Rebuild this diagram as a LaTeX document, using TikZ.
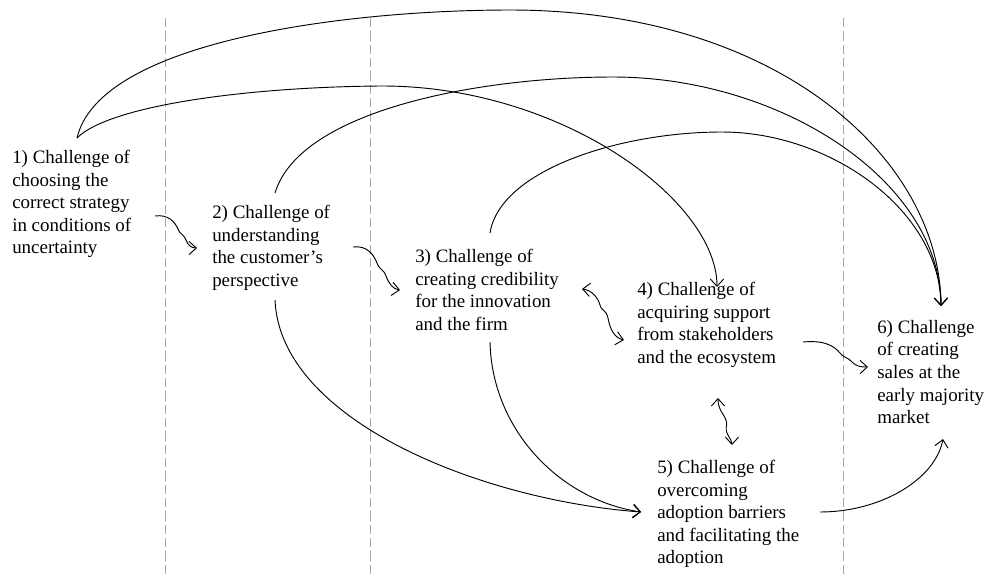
\documentclass[tikz,border=0pt]{standalone}
\usepackage{fontspec}
\setmainfont{Liberation Serif}
\usetikzlibrary{arrows.meta}
\begin{document}
\begin{tikzpicture}[x=0.75pt,y=-0.75pt,
  lbl/.style={anchor=north west,inner sep=0pt,align=left,font=\fontsize{14.2}{16.9}\selectfont},
  conn/.style={line width=0.7pt,-{Straight Barb[length=5.5pt,width=10pt]}},
  bconn/.style={line width=0.7pt,{Straight Barb[length=5.5pt,width=10pt]}-{Straight Barb[length=5.5pt,width=10pt]}},
  divider/.style={gray!70,line width=0.5pt,dash pattern=on 7pt off 3pt}]
\useasboundingbox (0,0) rectangle (996,576);
% dividers
\draw[divider] (165,18) -- (165,576);
\draw[divider] (370,18) -- (370,576);
\draw[divider] (843,18) -- (843,576);
% nodes
\node[lbl] (c1) at (12,150) {1) Challenge of\\choosing the\\correct strategy\\in conditions of\\uncertainty};
\node[lbl] (c2) at (212,205) {2) Challenge of\\understanding\\the customer’s\\perspective};
\node[lbl] (c3) at (415,249) {3) Challenge of\\creating credibility\\for the innovation\\and the firm};
\node[lbl] (c4) at (637,282) {4) Challenge of\\acquiring support\\from stakeholders\\and the ecosystem};
\node[lbl] (c5) at (657,460) {5) Challenge of\\overcoming\\adoption barriers\\and facilitating the\\adoption};
\node[lbl] (c6) at (877,320) {6) Challenge\\of creating\\sales at the\\early majority\\market};
% connector ends
\coordinate (c1top) at (77,138);
\coordinate (c2top) at (275,193);
\coordinate (c2bot) at (275,300);
\coordinate (c3top) at (490,233);
\coordinate (c3bot) at (490,342);
\coordinate (c4in) at (717,287);
\coordinate (c6in) at (941,306);
\coordinate (c5in) at (641,512);
\coordinate (c5out) at (820,512);
\coordinate (c6low) at (943,439);
\coordinate (w1s) at (155,216); \coordinate (w1e) at (197,248);
\coordinate (w2s) at (353,247); \coordinate (w2e) at (400,290);
\coordinate (w3s) at (582,289); \coordinate (w3e) at (624,340);
\coordinate (w4s) at (803,342); \coordinate (w4e) at (868,367);
\coordinate (w5s) at (718,398); \coordinate (w5e) at (732,445);
% long arcs
\draw[conn] (c1top) .. controls (100,40) and (350,10) .. (510,10)
  .. controls (780,10) and (940,160) .. (c6in);
\draw[conn] (c1top) .. controls (110,105) and (250,87) .. (380,86)
  .. controls (560,85) and (717,200) .. (c4in);
\draw[conn] (c2top) .. controls (300,110) and (480,77) .. (613,77)
  .. controls (780,77) and (940,180) .. (c6in);
\draw[conn] (c3top) .. controls (500,170) and (620,132) .. (722,132)
  .. controls (830,132) and (940,210) .. (c6in);
\draw[conn] (c2bot) .. controls (280,420) and (480,500) .. (c5in);
\draw[conn] (c3bot) .. controls (492,430) and (560,500) .. (c5in);
\draw[conn] (c5out) .. controls (880,512) and (935,480) .. (c6low);
% wavy short arrows
\draw[conn] (w1s) .. controls (168,214) and (175,222) .. (178,229)
  .. controls (181,236) and (183,233) .. (186,240)
  .. controls (188,245) and (191,248) .. (w1e);
\draw[conn] (w2s) .. controls (367,245) and (374,255) .. (377,263)
  .. controls (380,271) and (383,268) .. (386,276)
  .. controls (389,284) and (393,289) .. (w2e);
\draw[bconn] (w3s) .. controls (592,290) and (598,298) .. (600,305)
  .. controls (602,312) and (606,309) .. (608,318)
  .. controls (610,330) and (615,338) .. (w3e);
\draw[conn] (w4s) .. controls (825,340) and (834,346) .. (840,353)
  .. controls (845,359) and (848,357) .. (852,362)
  .. controls (856,366) and (860,367) .. (w4e);
\draw[bconn] (w5s) .. controls (718,410) and (724,414) .. (726,420)
  .. controls (728,427) and (724,428) .. (728,435)
  .. controls (730,439) and (732,441) .. (w5e);
\end{tikzpicture}
\end{document}
